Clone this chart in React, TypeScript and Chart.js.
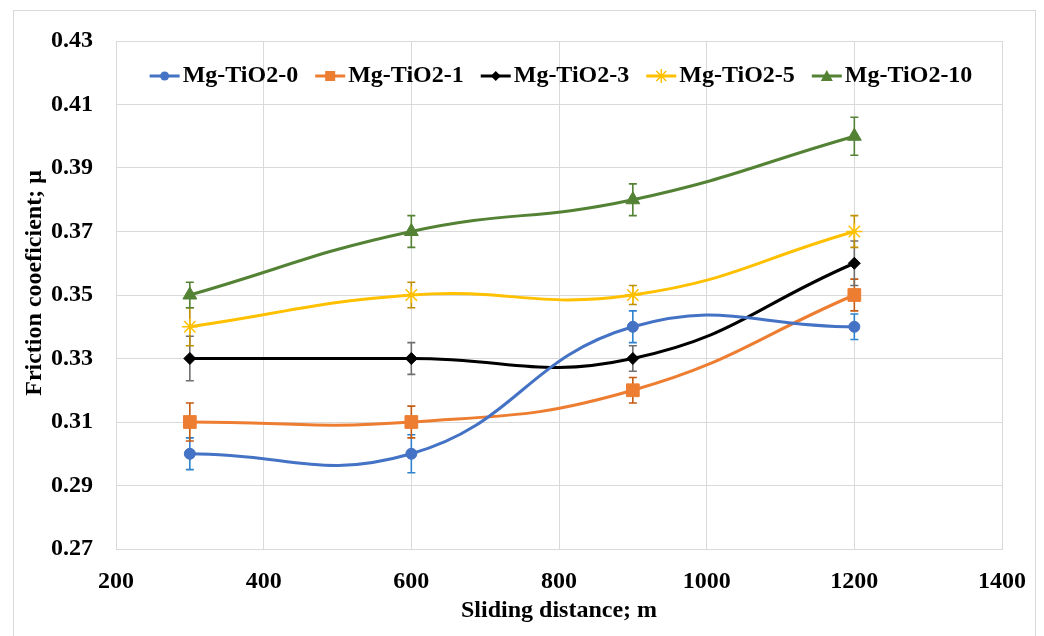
import React, { useEffect, useRef } from 'react';
import { Chart, registerables } from 'chart.js';

Chart.register(...registerables);

const distances = [300, 600, 900, 1200];
const seriesNames = ['Mg-TiO2-0', 'Mg-TiO2-1', 'Mg-TiO2-3', 'Mg-TiO2-5', 'Mg-TiO2-10'];
const mgTiO2_0 = [0.30, 0.30, 0.34, 0.34];
const mgTiO2_1 = [0.31, 0.31, 0.32, 0.35];
const mgTiO2_3 = [0.33, 0.33, 0.33, 0.36];
const mgTiO2_5 = [0.34, 0.35, 0.35, 0.37];
const mgTiO2_10 = [0.35, 0.37, 0.38, 0.40];
const err0 = [0.005, 0.006, 0.005, 0.004];
const err1 = [0.006, 0.005, 0.004, 0.005];
const err3 = [0.007, 0.005, 0.004, 0.007];
const err5 = [0.006, 0.004, 0.003, 0.005];
const err10 = [0.004, 0.005, 0.005, 0.006];
const xTickValues = [200, 400, 600, 800, 1000, 1200, 1400];
const yTickValues = [0.27, 0.29, 0.31, 0.33, 0.35, 0.37, 0.39, 0.41, 0.43];

const FONT = "'Liberation Serif', 'Times New Roman', serif";

const seriesValues = [mgTiO2_0, mgTiO2_1, mgTiO2_3, mgTiO2_5, mgTiO2_10];
const seriesErrors = [err0, err1, err3, err5, err10];
const lineColors = ['#4472C4', '#ED7D31', '#000000', '#FFC000', '#548235'];
const errColors = ['#2E83CF', '#C55A11', '#6F6F6F', '#BF9000', '#548235'];
const pointStyles = ['circle', 'rect', 'rectRot', 'star', 'triangle'];
const pointRadii = [5.5, 9, 6, 8, 8];

function drawLegendIcon(ctx: CanvasRenderingContext2D, x: number, y: number, color: string, style: string) {
  ctx.save();
  ctx.strokeStyle = color;
  ctx.fillStyle = color;
  ctx.lineWidth = 3;
  ctx.beginPath();
  ctx.moveTo(x, y);
  ctx.lineTo(x + 30, y);
  ctx.stroke();
  const cx = x + 15;
  ctx.lineWidth = 1.5;
  ctx.beginPath();
  if (style === 'circle') {
    ctx.arc(cx, y, 4.5, 0, Math.PI * 2);
    ctx.fill();
  } else if (style === 'rect') {
    ctx.fillRect(cx - 5, y - 5, 10, 10);
  } else if (style === 'rectRot') {
    ctx.moveTo(cx, y - 5);
    ctx.lineTo(cx + 5, y);
    ctx.lineTo(cx, y + 5);
    ctx.lineTo(cx - 5, y);
    ctx.closePath();
    ctx.fill();
  } else if (style === 'star') {
    for (let i = 0; i < 4; i++) {
      const a = (i * Math.PI) / 4;
      ctx.moveTo(cx - Math.cos(a) * 7, y - Math.sin(a) * 7);
      ctx.lineTo(cx + Math.cos(a) * 7, y + Math.sin(a) * 7);
    }
    ctx.stroke();
  } else if (style === 'triangle') {
    ctx.moveTo(cx, y - 6);
    ctx.lineTo(cx + 6, y + 5);
    ctx.lineTo(cx - 6, y + 5);
    ctx.closePath();
    ctx.fill();
  }
  ctx.restore();
}

const legendPlugin = {
  id: 'inlineLegend',
  afterDraw(chart: any) {
    const ctx = chart.ctx;
    const area = chart.chartArea;
    ctx.save();
    ctx.font = `bold 24px ${FONT}`;
    ctx.textBaseline = 'middle';
    ctx.textAlign = 'left';
    const iconW = 30;
    const iconGap = 3;
    const itemGap = 17;
    const widths = seriesNames.map((n) => ctx.measureText(n).width);
    const total = widths.reduce((a, b) => a + b, 0) + seriesNames.length * (iconW + iconGap) + (seriesNames.length - 1) * itemGap;
    let x = (area.left + area.right) / 2 + 2 - total / 2;
    const y = area.top + 35;
    seriesNames.forEach((n, i) => {
      drawLegendIcon(ctx, x, y, lineColors[i], pointStyles[i]);
      x += iconW + iconGap;
      ctx.fillStyle = '#000';
      ctx.fillText(n, x, y);
      x += widths[i] + itemGap;
    });
    ctx.restore();
  },
};

const errorBarPlugin = {
  id: 'errorBars',
  beforeDatasetsDraw(chart: any) {
    const ctx = chart.ctx;
    const xs = chart.scales.x;
    const ys = chart.scales.y;
    ctx.save();
    chart.data.datasets.forEach((ds: any, i: number) => {
      const errs = seriesErrors[i];
      ctx.strokeStyle = errColors[i];
      ctx.lineWidth = 1.6;
      ds.data.forEach((p: any, j: number) => {
        const px = xs.getPixelForValue(p.x);
        const top = ys.getPixelForValue(p.y + errs[j]);
        const bot = ys.getPixelForValue(p.y - errs[j]);
        ctx.beginPath();
        ctx.moveTo(px, top);
        ctx.lineTo(px, bot);
        ctx.moveTo(px - 4, top);
        ctx.lineTo(px + 4, top);
        ctx.moveTo(px - 4, bot);
        ctx.lineTo(px + 4, bot);
        ctx.stroke();
      });
    });
    ctx.restore();
  },
};

const framePlugin = {
  id: 'frame',
  beforeDraw(chart: any) {
    const ctx = chart.ctx;
    ctx.save();
    ctx.fillStyle = '#ffffff';
    ctx.fillRect(0, 0, chart.width, chart.height);
    ctx.strokeStyle = '#D9D9D9';
    ctx.lineWidth = 1;
    ctx.strokeRect(13.5, 10.5, 1022, 700);
    ctx.restore();
  },
};

export default function App() {
  const ref = useRef<HTMLCanvasElement>(null);

  useEffect(() => {
    document.body.style.margin = '0';
    const datasets = seriesNames.map((name, i) => ({
      label: name,
      data: distances.map((d, j) => ({ x: d, y: seriesValues[i][j] })),
      borderColor: lineColors[i],
      backgroundColor: lineColors[i],
      borderWidth: 3,
      tension: 0.45,
      showLine: true,
      pointStyle: pointStyles[i] as any,
      pointRadius: pointRadii[i],
      pointBorderWidth: i === 3 ? 1.5 : 1,
      pointBorderColor: lineColors[i],
      pointBackgroundColor: lineColors[i],
    }));

    const chart = new Chart(ref.current!, {
      type: 'scatter',
      data: { datasets },
      options: {
        animation: false,
        responsive: false,
        layout: { padding: { top: 41, right: 41, left: 0, bottom: 0 } },
        font: { family: FONT },
        plugins: {
          tooltip: { enabled: false },
          legend: { display: false },
        },
        scales: {
          x: {
            type: 'linear',
            min: 200,
            max: 1400,
            afterBuildTicks(scale: any) {
              scale.ticks = xTickValues.map((v) => ({ value: v }));
            },
            afterFit(scale: any) {
              scale.height = 87;
            },
            grid: { color: '#D9D9D9', lineWidth: 1, drawTicks: false },
            border: { color: '#D9D9D9' },
            ticks: {
              padding: 18,
              color: '#000',
              font: { family: FONT, size: 24, weight: 'bold' },
              maxRotation: 0,
              callback: (v: any) => String(v),
            },
            title: {
              display: true,
              text: 'Sliding distance; m',
              color: '#000',
              font: { family: FONT, size: 24, weight: 'bold' },
              padding: { top: 0, bottom: 11 },
            },
          },
          y: {
            type: 'linear',
            min: 0.27,
            max: 0.43,
            afterBuildTicks(scale: any) {
              scale.ticks = yTickValues.map((v) => ({ value: v }));
            },
            afterFit(scale: any) {
              scale.width = 116;
            },
            grid: { color: '#D9D9D9', lineWidth: 1, drawTicks: false },
            border: { color: '#D9D9D9' },
            ticks: {
              padding: 23,
              color: '#000',
              font: { family: FONT, size: 24, weight: 'bold' },
              callback: (v: any) => Number(v).toFixed(2),
            },
            title: {
              display: true,
              text: '\u00A0'.repeat(4) + 'Friction cooeficient; μ',
              color: '#000',
              font: { family: FONT, size: 24, weight: 'bold' },
              padding: { top: 20, bottom: 0 },
            },
          },
        },
      },
      plugins: [framePlugin, errorBarPlugin, legendPlugin],
    } as any);

    return () => chart.destroy();
  }, []);

  return (
    <div style={{ width: 1044, height: 636 }}>
      <canvas ref={ref} width={1044} height={636} />
    </div>
  );
}
